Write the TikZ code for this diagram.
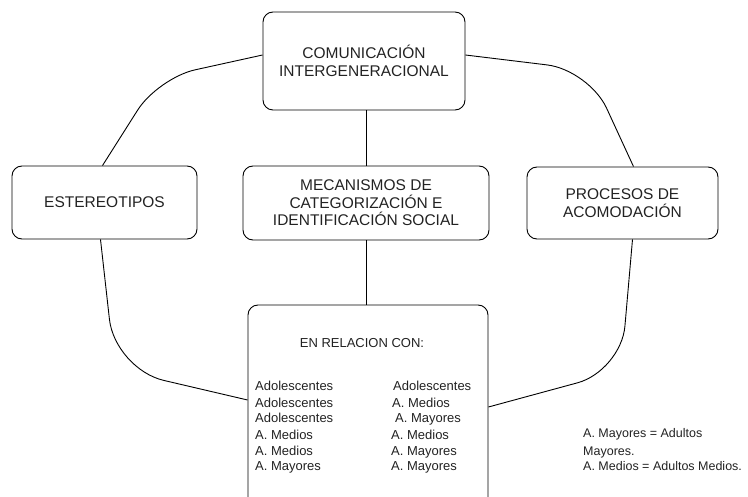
\documentclass[tikz,border=0pt]{standalone}
\usepackage{fontspec}
\setmainfont{Liberation Sans}
\usetikzlibrary{calc}
\definecolor{ink}{HTML}{222222}
\tikzset{
  box/.style={draw=black, line width=0.9pt, rounded corners=10pt, align=center,
    inner sep=0pt, text=ink, font=\fontsize{15.5}{17.5}\selectfont},
  link/.style={draw=black, line width=0.9pt},
  item/.style={anchor=base west, inner sep=0pt, text=ink, font=\fontsize{13}{16}\selectfont},
  note/.style={anchor=base west, inner sep=0pt, text=ink, font=\fontsize{12.5}{15}\selectfont}
}
\begin{document}
\begin{tikzpicture}[x=1pt,y=-1pt]
\useasboundingbox (0,0) rectangle (748,497);
\clip (0,0) rectangle (748,497);
\node[box, minimum width=202pt, minimum height=98pt] (top) at (364,61) {COMUNICACIÓN\\INTERGENERACIONAL};
\node[box, minimum width=185pt, minimum height=73pt] (est) at (104.5,202.5) {ESTEREOTIPOS};
\node[box, minimum width=246pt, minimum height=74pt] (mec) at (366,203) {MECANISMOS DE\\CATEGORIZACIÓN E\\IDENTIFICACIÓN SOCIAL};
\node[box, minimum width=191pt, minimum height=72pt] (pro) at (622.5,203) {PROCESOS DE\\ACOMODACIÓN};
\node[box, minimum width=240pt, minimum height=220pt] (bot) at (368,415) {};
% texts inside bottom box
\node[item, anchor=base] (hdr) at (362,348) {EN RELACION CON:};
\node[item] (l1) at (255,391) {Adolescentes};
\node[item] (l2) at (255,407) {Adolescentes};
\node[item] (l3) at (255,423) {Adolescentes};
\node[item] (l4) at (255,439) {A. Medios};
\node[item] (l5) at (255,455) {A. Medios};
\node[item] (l6) at (255,471) {A. Mayores};
\node[item] (r1) at (393,391) {Adolescentes};
\node[item] (r2) at (392,407) {A. Medios};
\node[item] (r3) at (395,423) {A. Mayores};
\node[item] (r4) at (391,439) {A. Medios};
\node[item] (r5) at (391,455) {A. Mayores};
\node[item] (r6) at (391,471) {A. Mayores};
% legend
\node[note] (n1) at (583,438) {A. Mayores = Adultos};
\node[note] (n2) at (583,455) {Mayores.};
\node[note] (n3) at (583,471) {A. Medios = Adultos Medios.};
% connectors
\draw[link] (mec.north) -- (mec.north |- top.south);
\draw[link] (mec.south) -- (mec.south |- bot.north);
\draw[link, rounded corners=38pt] ($(top.west)+(0,-6)$) -- (158,78) -- ($(est.north)+(-2,0)$);
\draw[link, rounded corners=42pt] ($(top.east)+(0,-6)$) -- (589,70) -- ($(pro.north)+(11,0)$);
\draw[link, rounded corners=50pt] ($(est.south)+(-4,0)$) -- (115,369) -- (bot.west |- 0,400);
\draw[link, rounded corners=45pt] ($(pro.south)+(10,0)$) -- (621,371) -- (bot.east |- 0,407);
\end{tikzpicture}
\end{document}
